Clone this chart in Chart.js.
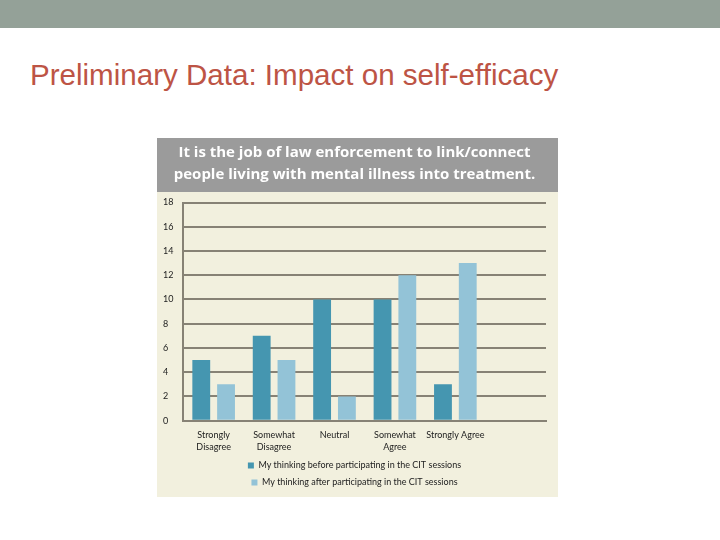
<!DOCTYPE html>
<html lang="en">
<head>
    <meta charset="UTF-8">
    <title>Preliminary Data: Impact on self-efficacy</title>
    <script src="https://cdn.jsdelivr.net/npm/chart.js"></script>
    <style>
        body {
            margin: 0;
            width: 720px;
            height: 540px;
            background-color: #ffffff;
            position: relative;
            overflow: hidden;
        }
        .topbar {
            position: absolute;
            left: 0;
            top: 0;
            width: 720px;
            height: 28px;
            background-color: #94a198;
        }
        .slide-title {
            position: absolute;
            left: 30px;
            top: 58px;
            font-family: "Liberation Sans", Arial, sans-serif;
            font-size: 30px;
            color: #bd5445;
            white-space: nowrap;
            transform: scaleX(0.985);
            transform-origin: left top;
        }
        .panel {
            position: absolute;
            left: 157px;
            top: 138px;
            width: 401px;
            height: 359px;
            background-color: #f2f0de;
        }
    </style>
</head>
<body>
    <div class="topbar"></div>
    <div class="slide-title">Preliminary Data: Impact on self-efficacy</div>
    <div class="panel">
        <canvas id="myChart" width="401" height="359"></canvas>
    </div>

    <script>
        // Dados (sexta categoria vazia, como no original)
        const categorias = [
            ['Strongly', 'Disagree'],
            ['Somewhat', 'Disagree'],
            'Neutral',
            ['Somewhat', 'Agree'],
            'Strongly Agree',
            ''
        ];
        const antes = [5, 7, 10, 10, 3, null];
        const depois = [3, 5, 2, 12, 13, null];
        const tituloGrafico = [
            'It is the job of law enforcement to link/connect',
            'people living with mental illness into treatment.'
        ];
        const legendas = [
            'My thinking before participating in the CIT sessions',
            'My thinking after participating in the CIT sessions'
        ];

        const fonte = 'Lato, "Open Sans", sans-serif';

        // Faixa cinza atrás do título
        const faixaTitulo = {
            id: 'faixaTitulo',
            beforeDraw(chart) {
                const c = chart.ctx;
                c.save();
                c.fillStyle = '#9b9b9b';
                c.fillRect(0, 0, chart.width, 54);
                c.restore();
            }
        };

        const ctx = document.getElementById('myChart').getContext('2d');

        new Chart(ctx, {
            type: 'bar',
            data: {
                labels: categorias,
                datasets: [
                    {
                        label: legendas[0],
                        data: antes,
                        backgroundColor: '#4596b0',
                        barPercentage: 0.72,
                        categoryPercentage: 0.82
                    },
                    {
                        label: legendas[1],
                        data: depois,
                        backgroundColor: '#93c3d7',
                        barPercentage: 0.72,
                        categoryPercentage: 0.82
                    }
                ]
            },
            options: {
                responsive: false,
                animation: false,
                layout: {
                    padding: { left: 6, right: 12, top: 0, bottom: 0 }
                },
                plugins: {
                    title: {
                        display: true,
                        text: tituloGrafico,
                        color: '#ffffff',
                        font: { family: '"Open Sans", Lato, sans-serif', size: 15, weight: 'bold', lineHeight: 1.45 },
                        padding: { top: 4, bottom: 17 }
                    },
                    legend: {
                        position: 'bottom',
                        labels: {
                            color: '#222222',
                            font: { family: fonte, size: 9 },
                            boxWidth: 6,
                            boxHeight: 6,
                            padding: 8
                        }
                    },
                    tooltip: { enabled: false }
                },
                scales: {
                    x: {
                        grid: { display: false },
                        border: { display: true, color: '#878275', width: 2 },
                        ticks: {
                            color: '#222222',
                            font: { family: fonte, size: 9, lineHeight: 1.35 },
                            padding: 0,
                            maxRotation: 0,
                            autoSkip: false
                        }
                    },
                    y: {
                        min: 0,
                        max: 18,
                        ticks: {
                            stepSize: 2,
                            color: '#222222',
                            font: { family: fonte, size: 9 },
                            crossAlign: 'far',
                            padding: 5
                        },
                        grid: {
                            color: '#878275',
                            lineWidth: 2,
                            drawTicks: false
                        },
                        border: { display: true, color: '#878275', width: 2 }
                    }
                }
            },
            plugins: [faixaTitulo]
        });
    </script>
</body>
</html>
